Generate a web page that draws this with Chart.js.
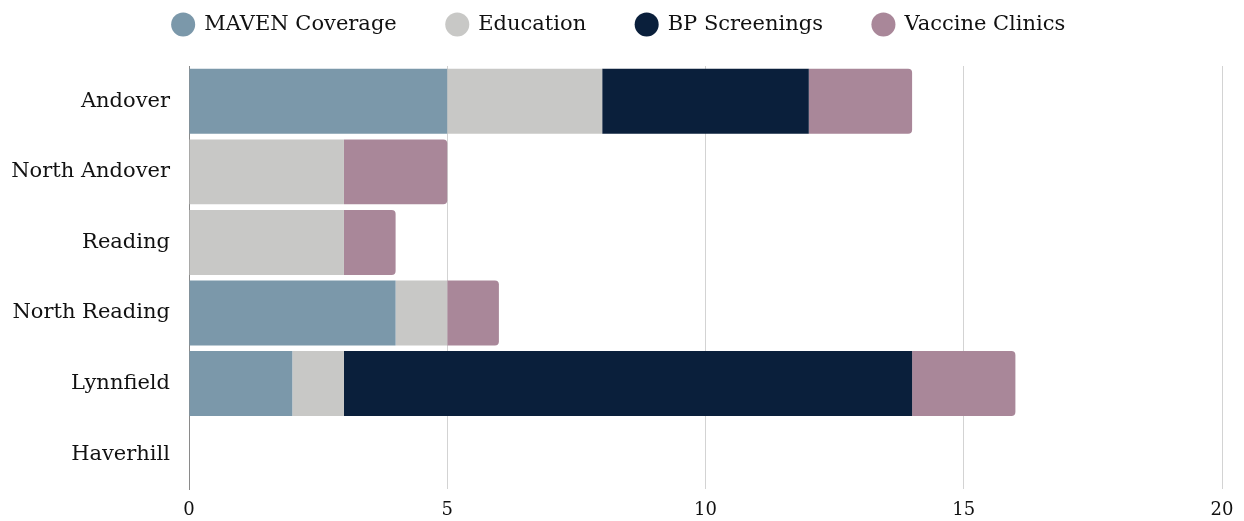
<!DOCTYPE html>
<html>
<head>
<meta charset="utf-8">
<script src="https://cdn.jsdelivr.net/npm/chart.js@4.4.1/dist/chart.umd.min.js"></script>
<style>
  html, body { margin: 0; padding: 0; background: #fff; }
  #wrap { width: 1244px; height: 521px; position: relative; }
</style>
</head>
<body>
<div id="wrap"><canvas id="barChart"></canvas></div>
<script>
var towns = ["Andover", "North Andover", "Reading", "North Reading", "Lynnfield", "Haverhill"];
var mavenCoverage = [5, 0, 0, 4, 2, 0];
var education = [3, 3, 3, 1, 1, 0];
var bpScreenings = [4, 0, 0, 0, 11, 0];
var vaccineClinics = [2, 2, 1, 1, 2, 0];
var xTicks = [0, 5, 10, 15, 20];

var serif = "'DejaVu Serif', 'Liberation Serif', serif";
Chart.defaults.font.family = serif;
Chart.defaults.color = "#111";

function makeSet(label, values, color) {
  return {
    label: label,
    data: values,
    backgroundColor: color,
    borderWidth: 0,
    borderRadius: 4,
    barPercentage: 0.92,
    categoryPercentage: 1
  };
}

// legend needs wide gaps between items but not a tall box
var legendSpace = {
  id: "legendSpace",
  beforeLayout: function(chart) {
    var lg = chart.legend;
    if (!lg || lg._patched) return;
    var origFit = lg.fit;
    lg.fit = function() {
      origFit.call(this);
      this.height += 21;
    };
    lg._patched = true;
  },
  afterLayout: function(chart) {
    // nudge legend a bit right, like the original
    chart.legend.left += 8;
    chart.legend.right += 8;
  }
};

var ctx = document.getElementById("barChart").getContext("2d");
var chart = new Chart(ctx, {
  type: "bar",
  data: {
    labels: towns,
    datasets: [
      makeSet("MAVEN Coverage", mavenCoverage, "#7b98aa"),
      makeSet("Education", education, "#c8c8c6"),
      makeSet("BP Screenings", bpScreenings, "#0a1f3b"),
      makeSet("Vaccine Clinics", vaccineClinics, "#a98799")
    ]
  },
  plugins: [legendSpace],
  options: {
    indexAxis: "y",
    responsive: true,
    maintainAspectRatio: false,
    animation: false,
    layout: { padding: { left: 0, right: 22, top: -36, bottom: -13 } },
    plugins: {
      legend: {
        position: "top",
        labels: {
          usePointStyle: true,
          pointStyle: "circle",
          boxHeight: 17,
          padding: 50,
          font: { size: 21 },
          color: "#111"
        }
      },
      tooltip: { enabled: false }
    },
    scales: {
      x: {
        stacked: true,
        min: 0,
        max: 20,
        afterBuildTicks: function(scale) {
          scale.ticks = xTicks.map(function(v) { return { value: v }; });
        },
        grid: { color: "#d3d3d3", drawTicks: false },
        border: { display: false },
        ticks: { padding: 10, font: { size: 18 }, color: "#111" }
      },
      y: {
        stacked: true,
        afterFit: function(scale) { scale.width = 189; },
        grid: { display: false, drawTicks: false },
        border: { display: true, color: "#8a8a8a" },
        ticks: { padding: 19, font: { size: 21 }, color: "#111" }
      }
    }
  }
});
</script>
</body>
</html>
